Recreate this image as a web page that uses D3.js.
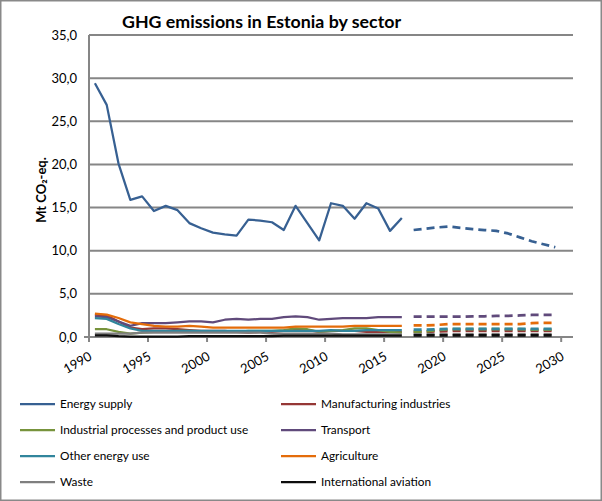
<!DOCTYPE html>
<html>
<head>
<meta charset="utf-8">
<script src="https://cdn.jsdelivr.net/npm/d3@7"></script>
<style>
  body { margin: 0; background: #fff; }
  text { font-family: Lato, "Open Sans", sans-serif; fill: #000; }
</style>
</head>
<body>
<div id="chart"></div>
<script>
// historical years and projection years
var years = [1990, 1991, 1992, 1993, 1994, 1995, 1996, 1997, 1998, 1999, 2000, 2001, 2002, 2003,
  2004, 2005, 2006, 2007, 2008, 2009, 2010, 2011, 2012, 2013, 2014, 2015, 2016];
var projYears = [2017, 2018, 2019, 2020, 2021, 2022, 2023, 2024, 2025, 2026, 2027, 2028, 2029];
var tickYears = [1990, 1995, 2000, 2005, 2010, 2015, 2020, 2025, 2030];
var yTicks = [0, 5, 10, 15, 20, 25, 30, 35];

var sectors = ["Energy supply", "Manufacturing industries", "Industrial processes and product use",
  "Transport", "Other energy use", "Agriculture", "Waste", "International aviation"];
var colors = ["#376092", "#953735", "#77933C", "#604A7B", "#31859C", "#E46C0A", "#7F7F7F", "#0D0D0D"];

var energySupply = [29.4, 26.9, 20.1, 15.9, 16.3, 14.6, 15.2, 14.7, 13.2, 12.6, 12.1, 11.9, 11.75, 13.6,
  13.5, 13.3, 12.4, 15.2, 13.2, 11.2, 15.5, 15.2, 13.7, 15.5, 14.9, 12.3, 13.8];
var manufacturing = [2.6, 2.5, 1.8, 1.1, 0.9, 1.0, 1.0, 0.9, 0.8, 0.7, 0.7, 0.7, 0.6, 0.5,
  0.6, 0.6, 0.7, 0.9, 0.8, 0.6, 0.7, 0.7, 0.7, 0.6, 0.6, 0.6, 0.6];
var industrial = [0.9, 0.9, 0.6, 0.4, 0.5, 0.6, 0.6, 0.7, 0.7, 0.6, 0.6, 0.6, 0.6, 0.7,
  0.7, 0.7, 0.8, 1.0, 0.9, 0.6, 0.7, 0.8, 1.0, 1.0, 0.8, 0.6, 0.5];
var transport = [2.4, 2.3, 1.8, 1.3, 1.6, 1.6, 1.6, 1.7, 1.8, 1.8, 1.7, 2.0, 2.1, 2.0,
  2.1, 2.1, 2.3, 2.4, 2.3, 2.0, 2.1, 2.2, 2.2, 2.2, 2.3, 2.3, 2.3];
var otherEnergy = [2.2, 2.1, 1.5, 1.0, 0.7, 0.7, 0.7, 0.7, 0.7, 0.7, 0.7, 0.7, 0.7, 0.7,
  0.7, 0.7, 0.7, 0.7, 0.7, 0.7, 0.8, 0.7, 0.7, 0.8, 0.8, 0.8, 0.8];
var agriculture = [2.7, 2.6, 2.2, 1.7, 1.5, 1.3, 1.2, 1.2, 1.3, 1.2, 1.1, 1.1, 1.1, 1.1,
  1.1, 1.1, 1.1, 1.2, 1.2, 1.2, 1.2, 1.2, 1.3, 1.3, 1.3, 1.3, 1.3];
var waste = [0.4, 0.4, 0.4, 0.4, 0.5, 0.5, 0.5, 0.5, 0.5, 0.5, 0.5, 0.5, 0.5, 0.5,
  0.5, 0.4, 0.4, 0.4, 0.4, 0.4, 0.4, 0.3, 0.3, 0.3, 0.3, 0.3, 0.3];
var aviation = [0.2, 0.2, 0.1, 0.05, 0.05, 0.05, 0.05, 0.05, 0.1, 0.1, 0.1, 0.1, 0.1, 0.1,
  0.1, 0.1, 0.15, 0.15, 0.15, 0.15, 0.15, 0.15, 0.15, 0.15, 0.15, 0.15, 0.15];

// projections, 2017-2029
var energySupplyProj = [12.4, 12.55, 12.7, 12.8, 12.65, 12.5, 12.4, 12.3, 12.0, 11.55, 11.1, 10.75, 10.4];
var manufacturingProj = [0.6, 0.6, 0.65, 0.7, 0.7, 0.7, 0.7, 0.7, 0.7, 0.7, 0.7, 0.7, 0.7];
var industrialProj = [0.6, 0.65, 0.8, 0.9, 0.9, 0.9, 0.9, 0.9, 0.9, 0.9, 0.85, 0.85, 0.85];
var transportProj = [2.35, 2.35, 2.35, 2.35, 2.35, 2.4, 2.4, 2.45, 2.45, 2.5, 2.55, 2.55, 2.55];
var otherEnergyProj = [0.85, 0.85, 0.9, 0.95, 0.95, 0.95, 0.95, 0.95, 0.95, 0.95, 0.95, 0.95, 0.95];
var agricultureProj = [1.35, 1.35, 1.4, 1.5, 1.5, 1.5, 1.5, 1.5, 1.5, 1.5, 1.6, 1.65, 1.65];
var wasteProj = [0.3, 0.3, 0.3, 0.3, 0.3, 0.3, 0.3, 0.3, 0.3, 0.3, 0.3, 0.3, 0.3];
var aviationProj = [0.2, 0.2, 0.2, 0.2, 0.2, 0.2, 0.2, 0.2, 0.2, 0.2, 0.2, 0.2, 0.2];

var historical = [energySupply, manufacturing, industrial, transport, otherEnergy, agriculture, waste, aviation];
var projections = [energySupplyProj, manufacturingProj, industrialProj, transportProj,
  otherEnergyProj, agricultureProj, wasteProj, aviationProj];

var W = 602, H = 501;
var plot = {left: 89, right: 573, top: 35, bottom: 337};
var gridColor = "#868686";

var svg = d3.select("#chart").append("svg")
  .attr("width", W)
  .attr("height", H);

svg.append("rect")
  .attr("x", 0.75).attr("y", 0.75)
  .attr("width", W - 1.5).attr("height", H - 1.5)
  .attr("fill", "#fff")
  .attr("stroke", "#898989")
  .attr("stroke-width", 1.5);

// category axis: each year is a band, ticks on band edges
var x = d3.scaleLinear().domain([1989.5, 2030.5]).range([plot.left, plot.right]);
var y = d3.scaleLinear().domain([0, 35]).range([plot.bottom, plot.top]);
var fmt = function(v) { return d3.format(".1f")(v).replace(".", ","); };

svg.append("text")
  .attr("x", 122)
  .attr("y", 28)
  .attr("font-size", 17.8)
  .attr("font-weight", "bold")
  .text("GHG emissions in Estonia by sector");

svg.append("text")
  .attr("transform", "translate(46,190) rotate(-90)")
  .attr("text-anchor", "middle")
  .attr("font-size", 13)
  .attr("font-weight", "bold")
  .text("Mt CO₂-eq.");

// gridlines + y labels
svg.append("g").selectAll("line")
  .data(yTicks.filter(function(d) { return d > 0; }))
  .enter().append("line")
  .attr("x1", plot.left).attr("x2", plot.right)
  .attr("y1", d => y(d)).attr("y2", d => y(d))
  .attr("stroke", gridColor)
  .attr("stroke-width", 2);

svg.append("g").selectAll("text")
  .data(yTicks)
  .enter().append("text")
  .attr("x", 77)
  .attr("y", d => y(d))
  .attr("dy", "0.35em")
  .attr("text-anchor", "end")
  .attr("font-size", 13)
  .text(fmt);

// axes lines
svg.append("line")
  .attr("x1", plot.left).attr("x2", plot.left)
  .attr("y1", plot.top).attr("y2", plot.bottom + 5)
  .attr("stroke", gridColor).attr("stroke-width", 2);
svg.append("line")
  .attr("x1", plot.left - 5).attr("x2", plot.right)
  .attr("y1", plot.bottom).attr("y2", plot.bottom)
  .attr("stroke", gridColor).attr("stroke-width", 2);

svg.append("g").selectAll("line")
  .data(tickYears)
  .enter().append("line")
  .attr("x1", d => x(d - 0.5)).attr("x2", d => x(d - 0.5))
  .attr("y1", plot.bottom).attr("y2", plot.bottom + 5)
  .attr("stroke", gridColor).attr("stroke-width", 2);

svg.append("g").selectAll("text")
  .data(tickYears)
  .enter().append("text")
  .attr("transform", d => "translate(" + (x(d) - 2) + ",359) rotate(-30)")
  .attr("text-anchor", "end")
  .attr("font-size", 13)
  .text(d => d);

// series lines
var line = d3.line()
  .x(d => x(d[0]))
  .y(d => y(d[1]));

var lines = svg.append("g")
  .attr("fill", "none")
  .attr("stroke-width", 2.25)
  .attr("stroke-linejoin", "round");

historical.forEach(function(vals, i) {
  lines.append("path")
    .attr("d", line(years.map((yr, j) => [yr, vals[j]])))
    .attr("stroke", colors[i]);
});
projections.forEach(function(vals, i) {
  lines.append("path")
    .attr("d", line(projYears.map((yr, j) => [yr, vals[j]])))
    .attr("stroke", colors[i])
    .attr("stroke-width", 2.75)
    .attr("stroke-dasharray", "8,5");
});

// legend
var legend = svg.append("g");
var legendRows = [404, 430, 456, 482];
sectors.forEach(function(name, i) {
  var col = i % 2, row = Math.floor(i / 2);
  var lx = col === 0 ? 20 : 281;
  var g = legend.append("g")
    .attr("transform", "translate(" + lx + "," + legendRows[row] + ")");
  g.append("line")
    .attr("x1", 0).attr("x2", 35)
    .attr("y1", 0).attr("y2", 0)
    .attr("stroke", colors[i])
    .attr("stroke-width", 2.25);
  g.append("text")
    .attr("x", 40)
    .attr("dy", "0.35em")
    .attr("font-size", 11.8)
    .text(name);
});
</script>
</body>
</html>
